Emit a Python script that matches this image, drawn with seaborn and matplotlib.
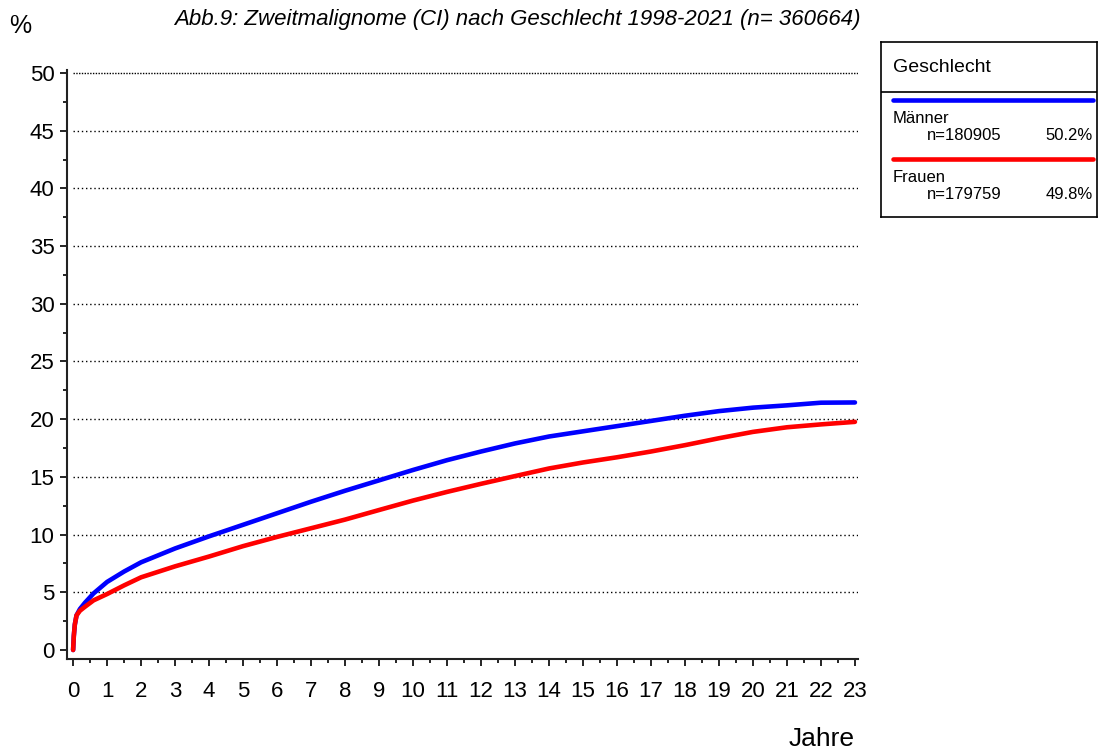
import matplotlib
matplotlib.use("Agg")
import matplotlib.pyplot as plt
import matplotlib.ticker as mtick
import numpy as np
import pandas as pd
import seaborn as sns

sns.set_style("ticks")
plt.rcParams['font.family'] = ['Liberation Sans', 'DejaVu Sans']
plt.rcParams['text.color'] = 'black'
plt.rcParams['xtick.color'] = 'black'
plt.rcParams['ytick.color'] = 'black'

# values (Jahre -> kumulierte %)
jahre = [0, 0.02, 0.05, 0.1, 0.2, 0.35, 0.6, 1, 1.5, 2, 3, 4, 5, 6, 7, 8, 9, 10,
         11, 12, 13, 14, 15, 16, 17, 18, 19, 20, 21, 22, 23]
maenner = [0, 1.2, 2.2, 3.0, 3.55, 4.1, 4.9, 5.9, 6.8, 7.6, 8.8, 9.85, 10.85, 11.85,
           12.85, 13.8, 14.7, 15.6, 16.45, 17.2, 17.9, 18.5, 18.95, 19.4, 19.85,
           20.3, 20.7, 21.0, 21.2, 21.43, 21.45]
frauen = [0, 1.2, 2.2, 3.0, 3.4, 3.75, 4.3, 4.85, 5.6, 6.3, 7.25, 8.1, 9.0, 9.8,
          10.55, 11.3, 12.13, 12.95, 13.7, 14.4, 15.07, 15.73, 16.25, 16.7, 17.2,
          17.75, 18.35, 18.9, 19.3, 19.55, 19.77]

gruppen = ['Männer', 'Frauen']
farben = {'Männer': '#0000FF', 'Frauen': '#FF0000'}
anzahl = ['n=180905', 'n=179759']
anteil = ['50.2%', '49.8%']

df = pd.DataFrame({
    'Jahre': jahre * 2,
    'Prozent': maenner + frauen,
    'Geschlecht': ['Männer'] * len(jahre) + ['Frauen'] * len(jahre),
})

W, H = 1099, 749
fig = plt.figure(figsize=(W / 100, H / 100), dpi=100)
ax = fig.add_axes([67 / W, 1 - 659 / H, (858 - 67) / W, (659 - 70) / H])

# dotted horizontal grid 5..50
for v in range(5, 51, 5):
    ax.hlines(v, 0, 23.1, colors='black', linewidth=1.0,
              linestyles=(0, (1, 1)) if v == 50 else (0, (1, 2)), zorder=1)

sns.lineplot(data=df, x='Jahre', y='Prozent', hue='Geschlecht', hue_order=gruppen,
             palette=farben, linewidth=3.3, legend=False, ax=ax, zorder=3)

ax.set_xlim(-0.18, 23.09)
ax.set_ylim(-0.78, 50.26)
ax.set_xlabel('')
ax.set_ylabel('')
ax.xaxis.set_major_locator(mtick.MultipleLocator(1))
ax.xaxis.set_minor_locator(mtick.MultipleLocator(0.5))
ax.yaxis.set_major_locator(mtick.MultipleLocator(5))
ax.yaxis.set_minor_locator(mtick.MultipleLocator(2.5))
ax.tick_params(axis='both', which='major', length=5, width=1.2, colors='black',
               labelsize=16)
ax.tick_params(axis='both', which='minor', length=3, width=1.2, colors='black')
ax.tick_params(axis='x', which='major', pad=11)
ax.tick_params(axis='y', which='major', pad=4)
ax.set_xticks(range(0, 24))
ax.set_yticks(range(0, 51, 5))
for s in ['top', 'right']:
    ax.spines[s].set_visible(False)
for s in ['left', 'bottom']:
    ax.spines[s].set_color('#222222')
    ax.spines[s].set_linewidth(1.5)

# title, axis labels
titel_font = ['Liberation Sans Narrow', 'Liberation Sans', 'DejaVu Sans']
fig.text(517 / W, 1 - 25 / H,
         'Abb.9: Zweitmalignome (CI) nach Geschlecht 1998-2021 (n= 360664)',
         ha='center', va='baseline', fontsize=16, style='italic', family=titel_font)
fig.text(9 / W, 1 - 33 / H, '%', ha='left', va='baseline', fontsize=18)
fig.text(855 / W, 1 - 746 / H, 'Jahre', ha='right', va='baseline', fontsize=19)

# legend box
lx0, ly0, lx1, ly1 = 881, 42, 1097, 217
lax = fig.add_axes([lx0 / W, 1 - ly1 / H, (lx1 - lx0) / W, (ly1 - ly0) / H])
lax.set_xlim(0, lx1 - lx0)
lax.set_ylim(ly1 - ly0, 0)
lax.set_xticks([])
lax.set_yticks([])
for s in lax.spines.values():
    s.set_visible(True)
    s.set_color('black')
    s.set_linewidth(1.2)
lax.axhline(50, color='black', linewidth=1.2)
lax.text(12, 30, 'Geschlecht', ha='left', va='baseline', fontsize=14)
for i, g in enumerate(gruppen):
    y0 = 58 + i * 59
    lax.plot([12, 212], [y0, y0], color=farben[g], linewidth=3.3)
    lax.text(12, y0 + 23, g, ha='left', va='baseline', fontsize=12)
    lax.text(46, y0 + 40, anzahl[i], ha='left', va='baseline', fontsize=12)
    lax.text(212, y0 + 40, anteil[i], ha='right', va='baseline', fontsize=12)

fig.savefig('out.png', dpi=100)
